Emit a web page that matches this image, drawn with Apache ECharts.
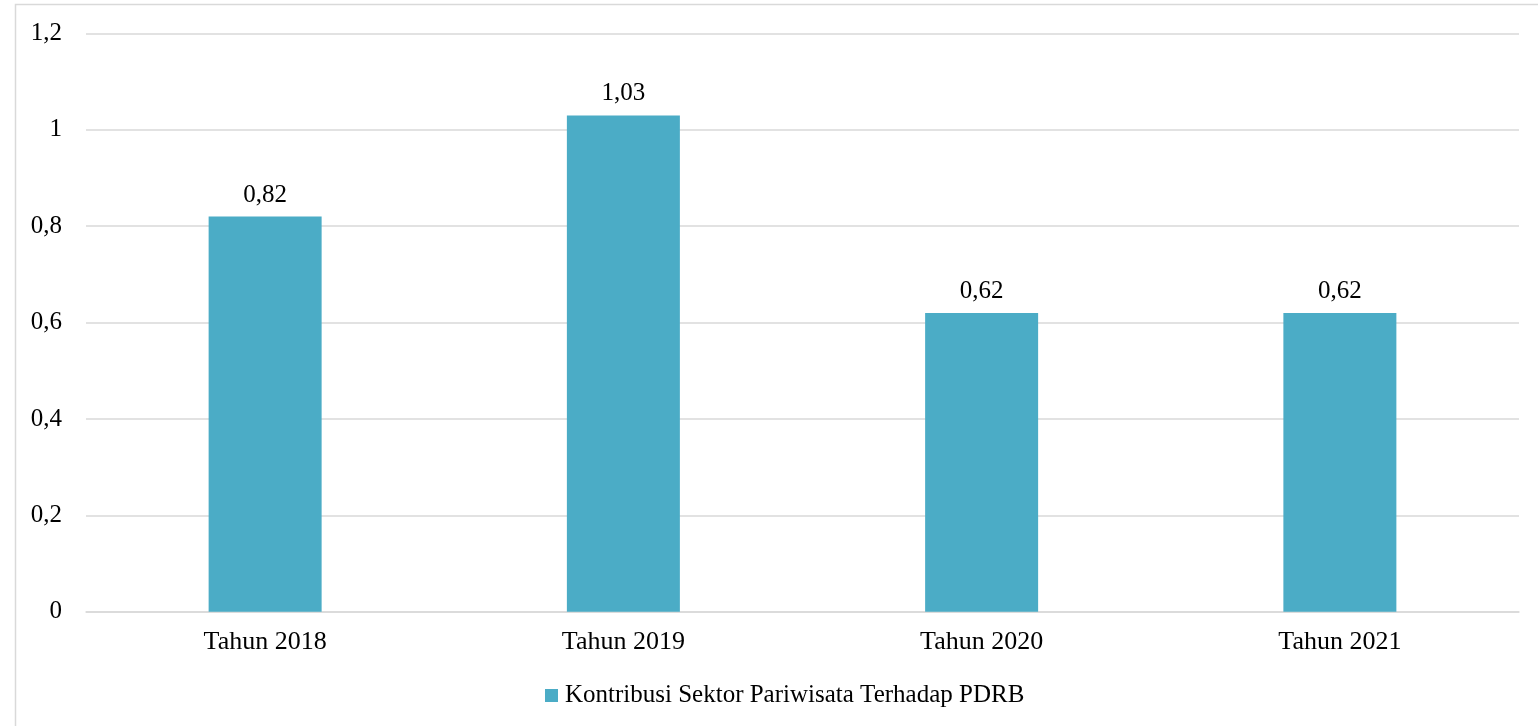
<!DOCTYPE html>
<html>
<head>
<meta charset="utf-8">
<script src="https://cdn.jsdelivr.net/npm/echarts@6/dist/echarts.min.js"></script>
<style>
html,body{margin:0;padding:0;background:#fff;}
#c{width:1538px;height:726px;}
</style>
</head>
<body>
<div id="c"></div>
<script>
const categories = ["Tahun 2018", "Tahun 2019", "Tahun 2020", "Tahun 2021"];
const seriesName = "Kontribusi Sektor Pariwisata Terhadap PDRB";
const values = [0.82, 1.03, 0.62, 0.62];
const yTicks = { min: 0, max: 1.2, interval: 0.2 };

const fmt = v => String(Math.round(v * 100) / 100).replace('.', ',');
const FONT = '"Liberation Serif", "DejaVu Serif", serif';

const chart = echarts.init(document.getElementById('c'));
chart.setOption({
  animation: false,
  backgroundColor: '#fff',
  textStyle: { fontFamily: FONT },
  graphic: [{
    type: 'rect',
    shape: { x: 15.5, y: 4.5, width: 1600, height: 800 },
    style: { fill: 'none', stroke: '#d9d9d9', lineWidth: 1.5 },
    silent: true
  }],
  grid: { left: 86, right: 19, top: 33.5, bottom: 114.3 },
  legend: {
    bottom: 13,
    left: 540,
    itemWidth: 13,
    itemHeight: 13,
    itemGap: 10,
    icon: 'rect',
    textStyle: { fontFamily: FONT, fontSize: 25, color: '#000', padding: [0, 0, 0, 2] },
    data: [seriesName]
  },
  xAxis: {
    type: 'category',
    data: categories,
    axisLine: { lineStyle: { color: '#d9d9d9', width: 1.5 } },
    axisTick: { show: false },
    axisLabel: { fontFamily: FONT, fontSize: 26, color: '#000', margin: 17 }
  },
  yAxis: {
    type: 'value',
    min: yTicks.min,
    max: yTicks.max,
    interval: yTicks.interval,
    axisLine: { show: false },
    axisTick: { show: false },
    splitLine: { lineStyle: { color: '#d9d9d9', width: 1.5 } },
    axisLabel: { fontFamily: FONT, fontSize: 25, color: '#000', margin: 24, formatter: fmt }
  },
  series: [{
    name: seriesName,
    type: 'bar',
    data: values,
    barWidth: 113,
    itemStyle: { color: '#4bacc6' },
    label: {
      show: true,
      position: 'top',
      distance: 9,
      fontFamily: FONT,
      fontSize: 25,
      color: '#000',
      formatter: p => fmt(p.value)
    }
  }]
});
</script>
</body>
</html>
